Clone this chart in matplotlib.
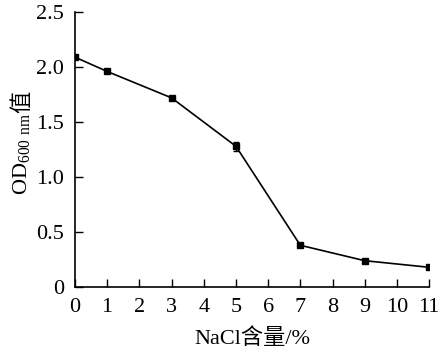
import matplotlib
matplotlib.use("Agg")
import matplotlib.pyplot as plt

# Datos
nacl = [0, 1, 3, 5, 7, 9, 11]
od600 = [2.09, 1.96, 1.72, 1.28, 0.38, 0.24, 0.18]
err = [0.01, 0.01, 0.01, 0.04, 0.01, 0.01, 0.01]
xticks = list(range(0, 12))
yticks = [0, 0.5, 1.0, 1.5, 2.0, 2.5]
ytick_labels = ["0", "0.5", "1.0", "1.5", "2.0", "2.5"]

plt.rcParams['font.family'] = ['Liberation Serif', 'Noto Sans CJK SC']
plt.rcParams['mathtext.fontset'] = 'custom'
plt.rcParams['mathtext.rm'] = 'Liberation Serif'
plt.rcParams['font.size'] = 16

fig = plt.figure(figsize=(4.41, 3.54), dpi=100)
ax = fig.add_axes([0.170, 0.189, 0.803, 0.777])

ax.errorbar(nacl, od600, yerr=err, color='black', marker='s', markersize=4.5,
            linewidth=1.2, capsize=2, elinewidth=1)

ax.set_xlim(0, 11)
ax.set_ylim(0, 2.5)
ax.set_xticks(xticks)
ax.set_yticks(yticks)
ax.set_yticklabels(ytick_labels)
ax.tick_params(direction='in', length=6, width=1, labelsize=16)
ax.tick_params(axis='y', pad=8)
ax.tick_params(axis='x', pad=8)
ax.spines['top'].set_visible(False)
ax.spines['right'].set_visible(False)
for s in ['left', 'bottom']:
    ax.spines[s].set_linewidth(1.2)

ax.set_xlabel("NaCl含量/%", fontsize=16, labelpad=8)

# Etiqueta del eje y en dos partes (mathtext no tiene el caracter chino)
od = fig.text(0.050, 0.449, r"OD$_{\mathrm{600\ nm}}$", rotation=90,
              ha='center', va='bottom', fontsize=16)
ax.annotate("值", xy=(0.5, 1), xycoords=od, rotation=90, ha='center',
            va='bottom', fontsize=16, family=['Noto Sans CJK SC'])

fig.savefig("out.png", dpi=100)
